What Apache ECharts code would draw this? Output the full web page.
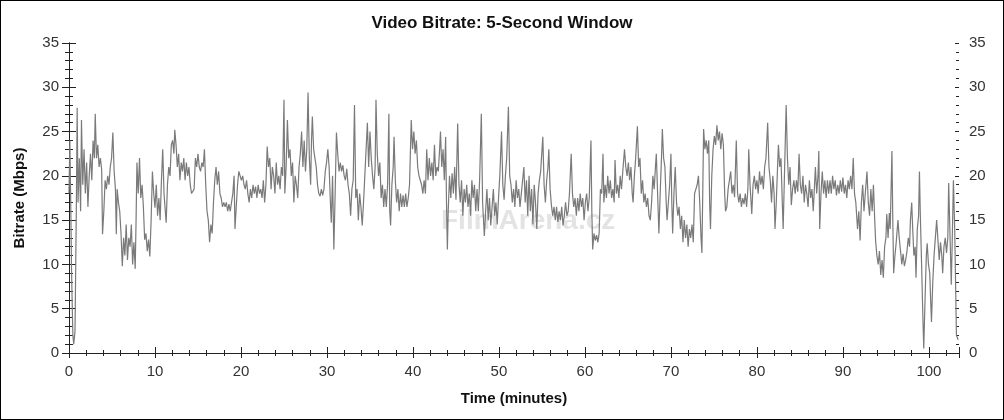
<!DOCTYPE html>
<html><head><meta charset="utf-8">
<script src="https://cdn.jsdelivr.net/npm/echarts@6/dist/echarts.min.js"></script>
<style>
html,body{margin:0;padding:0;background:#fff;}
#c{width:1004px;height:420px;box-sizing:border-box;border:1px solid #000;}
</style></head><body><div id="c"></div>
<script>
const chartTitle = "Video Bitrate: 5-Second Window";
const xName = "Time (minutes)";
const yName = "Bitrate (Mbps)";
const xTicks = [0,10,20,30,40,50,60,70,80,90,100];
const yTicks = [0,5,10,15,20,25,30,35];
const minutes = [0.0,0.1,0.2,0.3,0.45,0.55,0.7,0.85,0.95,1.05,1.2,1.35,1.45,1.6,1.75,1.9,2.05,2.2,2.35,2.5,2.65,2.8,2.95,3.05,3.2,3.35,3.5,3.65,3.8,3.9,4.05,4.2,4.35,4.5,4.65,4.8,4.95,5.1,5.25,5.4,5.5,5.6,5.75,5.9,6.05,6.2,6.35,6.5,6.65,6.8,6.95,7.1,7.25,7.4,7.55,7.7,7.8,7.9,8.05,8.2,8.35,8.5,8.65,8.8,8.95,9.1,9.25,9.4,9.55,9.7,9.85,10.0,10.15,10.3,10.45,10.6,10.75,10.9,11.05,11.2,11.3,11.45,11.6,11.75,11.9,12.05,12.2,12.3,12.45,12.6,12.75,12.9,13.05,13.2,13.35,13.5,13.65,13.8,13.95,14.1,14.25,14.4,14.55,14.7,14.85,15.0,15.15,15.3,15.45,15.6,15.75,15.9,16.05,16.2,16.35,16.5,16.65,16.8,16.95,17.1,17.25,17.4,17.55,17.7,17.85,18.0,18.15,18.3,18.45,18.6,18.75,18.9,19.05,19.2,19.3,19.45,19.6,19.75,19.9,20.05,20.2,20.35,20.5,20.65,20.8,20.95,21.1,21.25,21.4,21.55,21.7,21.85,22.0,22.15,22.3,22.45,22.6,22.75,22.9,23.05,23.2,23.35,23.5,23.65,23.8,23.95,24.1,24.25,24.4,24.55,24.7,24.85,25.0,25.1,25.25,25.4,25.55,25.7,25.85,26.0,26.15,26.3,26.45,26.6,26.75,26.9,27.05,27.2,27.35,27.5,27.65,27.8,27.95,28.1,28.2,28.3,28.45,28.6,28.75,28.9,29.05,29.2,29.35,29.5,29.65,29.8,29.95,30.1,30.25,30.4,30.5,30.65,30.8,30.95,31.1,31.25,31.4,31.55,31.7,31.85,32.0,32.15,32.3,32.45,32.6,32.75,32.9,33.05,33.2,33.35,33.5,33.65,33.8,33.95,34.1,34.25,34.4,34.55,34.7,34.85,35.0,35.15,35.3,35.45,35.6,35.7,35.85,36.0,36.15,36.3,36.45,36.6,36.75,36.9,37.05,37.2,37.3,37.4,37.55,37.7,37.8,37.95,38.1,38.25,38.4,38.55,38.7,38.85,39.0,39.15,39.3,39.45,39.6,39.8,39.95,40.1,40.25,40.4,40.55,40.7,40.85,41.0,41.15,41.3,41.45,41.6,41.75,41.9,42.05,42.2,42.35,42.5,42.65,42.8,42.95,43.1,43.2,43.35,43.5,43.65,43.8,43.9,44.0,44.1,44.25,44.4,44.55,44.7,44.85,45.0,45.2,45.35,45.5,45.65,45.8,45.95,46.1,46.25,46.4,46.55,46.7,46.85,47.0,47.15,47.3,47.45,47.6,47.75,47.95,48.1,48.3,48.45,48.6,48.75,48.9,49.05,49.2,49.35,49.5,49.65,49.8,49.95,50.1,50.3,50.45,50.6,50.75,50.9,51.1,51.25,51.4,51.55,51.7,51.85,52.0,52.15,52.3,52.45,52.6,52.75,52.9,53.05,53.2,53.35,53.5,53.65,53.8,53.95,54.1,54.25,54.4,54.55,54.7,54.85,55.1,55.25,55.4,55.55,55.7,55.8,55.95,56.1,56.25,56.4,56.55,56.7,56.85,57.0,57.15,57.3,57.45,57.6,57.75,57.9,58.05,58.2,58.4,58.55,58.7,58.85,59.0,59.15,59.3,59.45,59.6,59.75,59.9,60.05,60.2,60.35,60.5,60.7,60.8,60.9,61.05,61.2,61.35,61.5,61.65,61.8,61.95,62.1,62.2,62.35,62.5,62.65,62.8,62.95,63.1,63.25,63.4,63.5,63.65,63.8,63.95,64.1,64.25,64.4,64.6,64.75,64.9,65.05,65.2,65.35,65.5,65.6,65.75,65.9,66.1,66.25,66.4,66.55,66.7,66.85,67.0,67.15,67.3,67.45,67.6,67.75,67.9,68.05,68.2,68.3,68.45,68.6,68.75,68.9,69.0,69.15,69.3,69.45,69.55,69.7,69.85,70.0,70.1,70.2,70.35,70.5,70.65,70.8,70.95,71.1,71.25,71.4,71.55,71.7,71.85,72.0,72.15,72.3,72.45,72.6,72.75,72.9,73.05,73.2,73.35,73.5,73.6,73.7,73.8,73.95,74.1,74.25,74.4,74.5,74.6,74.75,74.9,75.05,75.2,75.35,75.5,75.65,75.8,75.95,76.1,76.25,76.35,76.5,76.65,76.8,76.95,77.1,77.25,77.4,77.6,77.75,77.9,78.05,78.2,78.35,78.5,78.65,78.8,78.95,79.05,79.2,79.4,79.55,79.7,79.85,80.0,80.15,80.3,80.45,80.6,80.75,80.9,81.05,81.25,81.4,81.55,81.7,81.85,82.0,82.1,82.25,82.4,82.5,82.65,82.8,82.95,83.05,83.2,83.4,83.55,83.7,83.85,84.0,84.15,84.3,84.45,84.6,84.75,84.9,85.05,85.2,85.35,85.5,85.65,85.8,85.95,86.1,86.25,86.4,86.55,86.7,86.8,86.95,87.1,87.2,87.3,87.45,87.6,87.75,87.9,88.05,88.2,88.35,88.5,88.65,88.8,88.95,89.1,89.25,89.4,89.55,89.7,89.85,90.0,90.15,90.3,90.45,90.6,90.75,90.9,91.05,91.2,91.35,91.5,91.7,91.85,92.0,92.15,92.3,92.45,92.6,92.8,92.95,93.1,93.25,93.4,93.55,93.7,93.8,93.95,94.1,94.25,94.4,94.55,94.7,94.85,95.0,95.1,95.25,95.4,95.5,95.7,95.8,95.9,96.05,96.2,96.4,96.55,96.7,96.85,97.0,97.15,97.3,97.45,97.6,97.75,97.85,98.0,98.1,98.25,98.4,98.5,98.65,98.8,98.9,99.0,99.15,99.3,99.4,99.55,99.7,99.8,99.95,100.1,100.2,100.3,100.45,100.6,100.75,100.9,101.05,101.2,101.35,101.5,101.6,101.75,101.9,102.05,102.2,102.3,102.45,102.6,102.7,102.85,103.0,103.2,103.4];
const mbps = [18,24,17,9,2,1,2.5,16,27.7,17,22,16,26.3,19,23,18,21.5,16.5,20,22.5,19.5,24,22,27,22,23.5,21,22,20.7,13.4,16,19.5,18.5,20,19,21,22,24.9,20.5,18.5,13.4,18.5,17,16,13.5,9.8,13,11,14.5,10.5,13,12,14.5,10,12.5,9.5,15,21.5,18,22,17.5,19,16.5,12.8,13.5,11.5,12.8,10.9,15,20.5,18,16.4,19,15.5,17.5,15,19.5,23,18,16,14.7,19,21,20,23.5,24,22.5,25.2,23.5,21,22.5,19.5,21.5,20.5,22,19.5,21.5,20,21,19,18,17.8,18.5,22,21,22.5,21,20.5,21.5,21,23,19,16,15,12.5,14.5,13.5,17,19.5,21,19,20.5,18,17.5,16.5,17,16.5,17,16,16.8,16,17,18,20,14,16.5,19,20.5,20,19.5,20,19,18.5,19.5,18,17,18.5,17.5,19,18,18.8,17.5,19,18,18.5,17.5,19.5,17,19,23.3,21,22,18.5,21,20,18,21.5,19,20,18.5,21,20,28.6,18,21,26.3,22,23,20,21.5,17,20,19,17.5,21,22.5,25,21,24,20.5,23,29.4,22,19,24,26.7,23,22,21,19,18,17.7,18.5,17.8,18.5,20.5,21.5,23,21,17,14.7,20,11.7,18,24.9,22.5,20.5,21.5,20.5,21.2,20,19.5,20.8,19,18,15.5,18.5,19.5,28,17.5,18.5,15,18,16.5,14.4,17,20,23,26,21,25,22,20,18.5,21,28.6,22.5,20,21.5,17.5,19,16.5,18.5,16.5,19,27,16,14.4,19,21,24.4,19.5,17,18.5,16,18,16.5,17.8,16.5,18,16.5,17.5,19,26.3,23,25,22.5,24,21,20,19.5,19,18,19.5,18,23,19.5,22,20,21.5,19.5,23.5,20,21,20.5,23,25,21,23,19.5,24.4,17,11.7,16,20,17.5,20.3,18,21,17.3,25.9,19,17,19.5,15.5,18.5,17,19,16.5,18,15.5,19.5,17.5,19,16,18.5,16,19.5,27,17,13.2,16,18.5,15,17.5,14.4,16.5,18.5,15.5,17,14.5,17.5,20,25,19,17.3,20,22,27.8,20,19,17,18.5,16.5,19.5,17.5,18.5,16.5,18,19.5,21,17,19.5,15.5,20,16,18.5,14.5,19,17,14,18,19.5,20.5,24.4,19,17,19.5,21,23,18.5,16.7,15.5,16.5,15,16.5,14.8,16,15,16.5,14.4,15.5,17,15.5,16,18,22.5,18,16.5,17.5,15.5,17.5,16,18,16.5,17.5,15,17,18,16,17.5,24,16,11.7,13.5,12.7,13.3,12.5,13.5,18.5,18,22.5,17,19,17.5,20,18,19.5,17.5,18.5,17,21.8,18,19,17.5,20,18.5,20.5,23,21,20,21.5,19.5,21,18,17,20,22,25.6,21,22,18,19.5,17,18,16.5,17.5,15.5,15,17,20,18.5,21,22.5,18,13.5,18,22,25.3,22,21,17,15,17,19,22.5,17,13.5,18,21,17,15.5,16.5,14,15.5,12.5,15,13,14.5,12,14,13,14.5,12.5,18,17.8,19,20,17,13,11.3,18,25.3,23,24,22.5,24,17,14,20,23,24.5,23.5,25.7,24,25,23,24.8,23.5,18,16,16.5,18.5,19.5,20.5,18,19,17.6,24,18,17,18,16.5,17.5,16.8,18,16.5,18.5,23,19,15.7,19,20,18.5,19.5,18,20.5,19,20,18.5,21,22,26,21,19.5,17,20,18,14,17,21,23.5,21,22,17,14,20,28,22,19,21,16.7,18.5,19.5,18,19.5,18.2,22.5,19,18,20,17,19,18,16.5,19.5,17.5,18.5,16,19,21,18,20,22.8,14,18,20.5,18,19.5,17.5,19.5,18,19.5,18,20,18.5,19.5,17.8,19,18,19.5,18.2,19.8,18,19,17.5,19.5,18.5,20,18.5,22,18,17,14,16,12.7,17,19,16,18,20.5,17,15.5,18.5,16,19,15,12.7,11,10,11.5,8.8,10.5,8.5,12,13,15.7,13,15.8,14,22.8,15,9,11,12.5,15,13,11.5,10,11.2,9.8,10.5,11.5,13,12,15,17,14.4,11,12,8.5,14,15.5,20.5,15.7,10,4,0.5,6,11,12.4,10,9,6,3.5,8,11,13,15,14.8,10.5,12.5,11,9,12,13,11.3,13,19.2,19,7.7,12,19.5,14,2,1.5];

const seriesData = minutes.map((t, i) => [t, mbps[i]]);
const FONT = "Liberation Sans, Arial, sans-serif";
const lab = {fontFamily: FONT, fontSize: 15, color: "#333"};
const axisLine = {show: true, lineStyle: {color: "#222", width: 1}};
const common = {min: 0, max: 35, interval: 5};
const xCommon = {type: "value", min: 0, max: 103.5, interval: 10, splitLine: {show: false}};

const chart = echarts.init(document.getElementById("c"), null, {renderer: "canvas"});
chart.setOption({
  animation: false,
  backgroundColor: "#fff",
  title: {text: chartTitle, left: "center", top: 9,
    textStyle: {fontFamily: FONT, fontSize: 17, fontWeight: "bold", color: "#111"}},
  grid: {left: 68, right: 44, top: 42, bottom: 66, containLabel: false},
  xAxis: [
    Object.assign({}, xCommon, {position: "bottom", axisLine,
      axisTick: {show: true, inside: false, length: 5, lineStyle: {color: "#222"}},
      minorTick: {show: false},
      axisLabel: Object.assign({}, lab, {margin: 11, showMaxLabel: false,
        formatter: v => xTicks.indexOf(v) >= 0 ? String(v) : ""}),
      name: xName, nameLocation: "middle", nameGap: 38,
      nameTextStyle: {fontFamily: FONT, fontSize: 15, fontWeight: "bold", color: "#111"}}),
    Object.assign({}, xCommon, {position: "bottom", axisLine: {show: false},
      axisTick: {show: true, inside: true, length: 6, lineStyle: {color: "#222"}},
      minorTick: {show: true, splitNumber: 5, length: 3, lineStyle: {color: "#222"}},
      axisLabel: {show: false}}),
    Object.assign({}, xCommon, {position: "top", axisLine,
      axisTick: {show: true, inside: true, length: 5, lineStyle: {color: "#222"}},
      minorTick: {show: true, splitNumber: 5, length: 3, lineStyle: {color: "#222"}},
      axisLabel: {show: false}})
  ],
  yAxis: [
    Object.assign({type: "value", position: "left", axisLine, splitLine: {show: false},
      axisTick: {show: true, inside: false, length: 7, lineStyle: {color: "#222"}},
      minorTick: {show: true, splitNumber: 5, length: 4, lineStyle: {color: "#222"}},
      axisLabel: Object.assign({}, lab, {margin: 10,
        formatter: v => yTicks.indexOf(v) >= 0 ? String(v) : ""}),
      name: yName, nameLocation: "middle", nameGap: 42,
      nameTextStyle: {fontFamily: FONT, fontSize: 15, fontWeight: "bold", color: "#111"}}, common),
    Object.assign({type: "value", position: "left", axisLine: {show: false}, splitLine: {show: false},
      axisTick: {show: true, inside: true, length: 4, lineStyle: {color: "#222"}},
      minorTick: {show: true, splitNumber: 5, length: 3, lineStyle: {color: "#222"}},
      axisLabel: {show: false}}, common),
    Object.assign({type: "value", position: "right", axisLine, splitLine: {show: false},
      axisTick: {show: true, inside: false, length: 7, lineStyle: {color: "#222"}},
      minorTick: {show: true, splitNumber: 5, length: 4, lineStyle: {color: "#222"}},
      axisLabel: Object.assign({}, lab, {margin: 10,
        formatter: v => yTicks.indexOf(v) >= 0 ? String(v) : ""})}, common),
    Object.assign({type: "value", position: "right", axisLine: {show: false}, splitLine: {show: false},
      axisTick: {show: true, inside: true, length: 4, lineStyle: {color: "#222"}},
      minorTick: {show: true, splitNumber: 5, length: 3, lineStyle: {color: "#222"}},
      axisLabel: {show: false}}, common)
  ],
  graphic: [{type: "text", left: 440, top: 206, z: 0, silent: true,
    style: {text: "FilmArena.cz", fill: "rgba(200,200,200,0.5)",
      font: "bold 28px Liberation Sans, Arial, sans-serif"}}],
  series: [{
    type: "line", xAxisIndex: 0, yAxisIndex: 0, data: seriesData,
    showSymbol: false, symbol: "none", z: 5,
    lineStyle: {color: "#7a7a7a", width: 1.2}
  }]
});
</script></body></html>
